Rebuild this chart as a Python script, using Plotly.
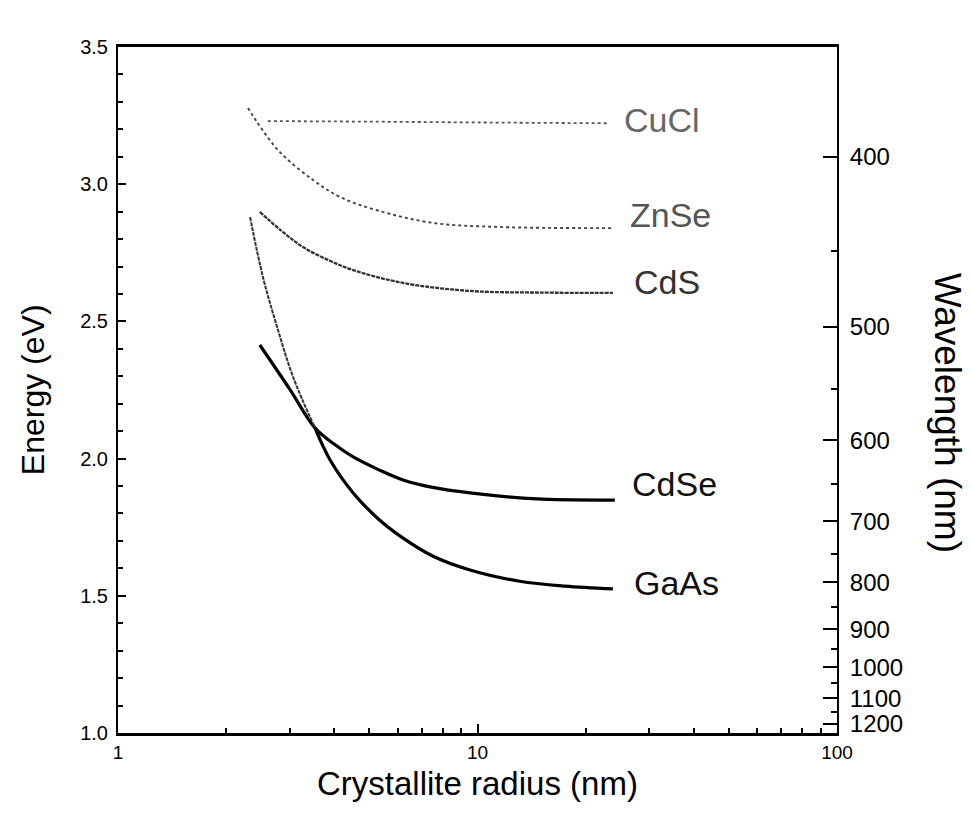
import math
import plotly.graph_objects as go

# ---- data ----
cucl_r = [2.61, 5.0, 10.0, 22.9]
cucl_e = [3.230, 3.228, 3.225, 3.222]

znse_r = [2.30, 2.44, 2.82, 3.49, 4.15, 5.25, 7.52, 11.55, 23.7]
znse_e = [3.278, 3.225, 3.117, 3.015, 2.953, 2.905, 2.859, 2.844, 2.840]

cds_r = [2.48, 2.85, 3.27, 3.9, 4.51, 6.21, 9.53, 15.0, 23.8]
cds_e = [2.899, 2.83, 2.771, 2.72, 2.687, 2.640, 2.611, 2.605, 2.604]

cdse_r = [2.48, 3.0, 3.53, 4.0, 4.51, 5.3, 6.21, 7.5, 9.53, 14.64, 24.1]
cdse_e = [2.414, 2.254, 2.112, 2.052, 2.006, 1.96, 1.922, 1.895, 1.875, 1.853, 1.849]

gaas_r = [2.33, 2.53, 2.77, 3.07, 3.53, 3.89, 4.51, 5.3, 6.21, 7.5, 9.53, 13.1, 17.5, 23.8]
gaas_e = [2.880, 2.662, 2.480, 2.297, 2.112, 1.995, 1.875, 1.78, 1.71, 1.645, 1.594, 1.553, 1.535, 1.525]
gaas_split = 4  # index where the drawn GaAs line turns from faint to solid

labels = ["CuCl", "ZnSe", "CdS", "CdSe", "GaAs"]
label_r = [25.2, 26.2, 26.9, 26.6, 26.9]
label_e = [3.234, 2.888, 2.644, 1.907, 1.547]
label_col = ["#666666", "#555555", "#333333", "#111111", "#111111"]

x_major = [1, 10, 100]
x_major_text = ["1", "10", "100"]
x_minor = [2, 3, 4, 5, 6, 7, 8, 9, 20, 30, 40, 50, 60, 70, 80, 90]

wl_major = [400, 500, 600, 700, 800, 900, 1000, 1100, 1200]
wl_minor = [450, 550, 650, 750, 850, 950, 1050, 1150]
HC = 1239.84  # eV*nm

FONT = "Liberation Sans, Arial, Helvetica, sans-serif"

fig = go.Figure()

def add_line(xs, ys, color, width, dash):
    fig.add_trace(go.Scatter(x=xs, y=ys, mode="lines", line_shape="spline",
                             line=dict(color=color, width=width, dash=dash),
                             showlegend=False, hoverinfo="skip"))

add_line(cucl_r, cucl_e, "#555555", 1.8, "dot")
add_line(znse_r, znse_e, "#444444", 1.9, "dot")
add_line(cds_r, cds_e, "#333333", 2.3, "4px,1px")
add_line(cdse_r, cdse_e, "#000000", 3.2, "solid")
add_line(gaas_r[:gaas_split + 1], gaas_e[:gaas_split + 1], "#333333", 2.0, "4px,1px")
add_line(gaas_r[gaas_split:], gaas_e[gaas_split:], "#000000", 3.2, "solid")

# invisible trace to anchor the wavelength axis
fig.add_trace(go.Scatter(x=cdse_r, y=cdse_e, yaxis="y2", mode="lines",
                         opacity=0, showlegend=False, hoverinfo="skip"))

for t, xr, ye, c in zip(labels, label_r, label_e, label_col):
    fig.add_annotation(x=math.log10(xr), y=ye, text=t, showarrow=False,
                       xanchor="left", yanchor="middle",
                       font=dict(family=FONT, size=34, color=c))

fig.update_layout(
    width=972, height=816,
    margin=dict(l=118, r=135, t=47, b=83),
    paper_bgcolor="white", plot_bgcolor="white",
    font=dict(family=FONT, color="black"),
    xaxis=dict(type="log", range=[0, 2], tickmode="array", tickvals=x_major,
               ticktext=x_major_text, ticks="inside", ticklen=9, tickwidth=2,
               tickcolor="black", showline=True, linewidth=3, linecolor="black",
               mirror=True, showgrid=False, zeroline=False,
               tickfont=dict(size=19, family=FONT),
               minor=dict(tickmode="array", tickvals=x_minor, ticks="inside",
                          ticklen=5, tickwidth=2, tickcolor="black", showgrid=False)),
    yaxis=dict(range=[1.0, 3.5], tickmode="linear", tick0=1.0, dtick=0.5,
               tickformat=".1f", ticks="inside", ticklen=8, tickwidth=2,
               tickcolor="black", showline=True, linewidth=2, linecolor="black",
               showgrid=False, zeroline=False, ticklabelstandoff=4,
               tickfont=dict(size=20, family=FONT),
               minor=dict(tickmode="linear", dtick=0.1, ticks="inside",
                          ticklen=5, tickwidth=2, tickcolor="black", showgrid=False)),
    yaxis2=dict(overlaying="y", side="right", range=[1.0, 3.5], tickmode="array",
                tickvals=[HC / w for w in wl_major], ticktext=[str(w) for w in wl_major],
                ticks="inside", ticklen=14, tickwidth=2, tickcolor="black",
                showline=True, linewidth=2, linecolor="black", showgrid=False,
                zeroline=False, ticklabelstandoff=6,
                tickfont=dict(size=24, family=FONT),
                minor=dict(tickmode="array", tickvals=[HC / w for w in wl_minor],
                           ticks="inside", ticklen=6, tickwidth=2, tickcolor="black",
                           showgrid=False)),
)

fig.add_annotation(xref="paper", yref="paper", x=0.5, y=-0.073, yanchor="middle",
                   text="Crystallite radius (nm)", showarrow=False,
                   font=dict(family=FONT, size=33, color="black"))
fig.add_annotation(xref="paper", x=-0.118, xanchor="center", yref="paper", y=0.5,
                   text="Energy (eV)", textangle=-90, showarrow=False,
                   font=dict(family=FONT, size=32, color="black"))
fig.add_annotation(xref="paper", x=1.153, xanchor="center", yref="paper", y=0.467,
                   text="Wavelength (nm)", textangle=90, showarrow=False,
                   font=dict(family=FONT, size=37, color="black"))

fig.write_html("out.html")
